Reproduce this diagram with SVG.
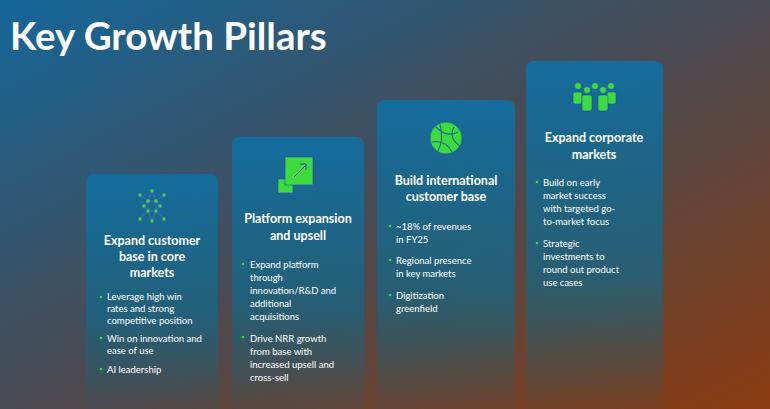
<svg xmlns="http://www.w3.org/2000/svg" width="770" height="409" viewBox="0 0 770 409">
<defs>
<linearGradient id="bg" x1="0" y1="0" x2="1" y2="1">
<stop offset="0" stop-color="#12679a"/><stop offset="0.5" stop-color="#4a4a52"/><stop offset="1" stop-color="#8c3c10"/>
</linearGradient>
<linearGradient id="card" x1="0" y1="0" x2="0" y2="1">
<stop offset="0" stop-color="#126ea0" stop-opacity="0.95"/><stop offset="0.6" stop-color="#1a6480" stop-opacity="0.8"/><stop offset="1" stop-color="#1a6070" stop-opacity="0"/>
</linearGradient>
<style>
.t{font-family:Lato,"Open Sans",sans-serif;fill:#fff}
.h{font-size:12.5px;font-weight:bold;text-anchor:middle}
.b{font-size:9.5px}
.d{fill:#3ddc3d}
.g{fill:#3ddc3d;stroke:#2a40c0;stroke-width:0.6}
.ln{stroke:#5a6ad0;stroke-width:0.7}
</style>
</defs>
<rect width="770" height="409" fill="url(#bg)"/>
<text class="t" x="10" y="50" font-size="38.5" font-weight="bold">Key Growth Pillars</text>
<g id="card1">
<rect x="86" y="174" width="132" height="245" rx="8" fill="url(#card)"/>
<g class="ln">
<line x1="152" y1="191" x2="148" y2="201"/><line x1="152" y1="191" x2="156" y2="201"/>
<line x1="148" y1="201" x2="156" y2="201"/><line x1="148" y1="201" x2="148" y2="211"/><line x1="156" y1="201" x2="156" y2="211"/><line x1="148" y1="211" x2="156" y2="211"/>
<line x1="148" y1="211" x2="152" y2="221"/><line x1="156" y1="211" x2="152" y2="221"/>
<line x1="144" y1="206" x2="148" y2="201"/><line x1="144" y1="206" x2="148" y2="211"/><line x1="160" y1="206" x2="156" y2="201"/><line x1="160" y1="206" x2="156" y2="211"/>
<line x1="140" y1="195" x2="148" y2="201"/><line x1="164" y1="195" x2="156" y2="201"/><line x1="140" y1="219" x2="148" y2="211"/><line x1="164" y1="219" x2="156" y2="211"/>
</g>
<g class="g">
<circle cx="152" cy="191" r="2.2"/><circle cx="140" cy="195" r="2.2"/><circle cx="164" cy="195" r="2.2"/>
<circle cx="148" cy="201" r="2.2"/><circle cx="156" cy="201" r="2.2"/><circle cx="144" cy="206" r="2.2"/><circle cx="160" cy="206" r="2.2"/>
<circle cx="148" cy="211" r="2.2"/><circle cx="156" cy="211" r="2.2"/><circle cx="140" cy="219" r="2.2"/><circle cx="164" cy="219" r="2.2"/><circle cx="152" cy="221" r="2.2"/>
</g>
<text class="t h" x="152" y="245">Expand customer</text>
<text class="t h" x="152" y="261">base in core</text>
<text class="t h" x="152" y="277">markets</text>
<circle class="d" cx="101" cy="297" r="1.3"/><circle class="d" cx="101" cy="338" r="1.3"/><circle class="d" cx="101" cy="369" r="1.3"/>
<text class="t b" x="107" y="300">Leverage high win</text>
<text class="t b" x="107" y="312">rates and strong</text>
<text class="t b" x="107" y="324">competitive position</text>
<text class="t b" x="107" y="342">Win on innovation and</text>
<text class="t b" x="107" y="354">ease of use</text>
<text class="t b" x="107" y="373">AI leadership</text>
</g>
<g id="card2">
<rect x="232" y="137" width="132" height="282" rx="8" fill="url(#card)"/>
<rect x="278" y="179" width="15" height="14" class="g"/>
<rect x="285" y="157" width="28" height="28" class="g"/>
<line x1="294" y1="177" x2="306" y2="165" stroke="#2a40c0" stroke-width="1"/><polyline points="300,164 306,164 306,170" fill="none" stroke="#2a40c0" stroke-width="1"/>
<text class="t h" x="298" y="223">Platform expansion</text>
<text class="t h" x="298" y="240">and upsell</text>
<circle class="d" cx="243" cy="264" r="1.3"/><circle class="d" cx="243" cy="337" r="1.3"/>
<text class="t b" x="250" y="268">Expand platform</text>
<text class="t b" x="250" y="281">through</text>
<text class="t b" x="250" y="294">innovation/R&amp;D and</text>
<text class="t b" x="250" y="307">additional</text>
<text class="t b" x="250" y="320">acquisitions</text>
<text class="t b" x="250" y="342">Drive NRR growth</text>
<text class="t b" x="250" y="355">from base with</text>
<text class="t b" x="250" y="368">increased upsell and</text>
<text class="t b" x="250" y="381">cross-sell</text>
</g>
<g id="card3">
<rect x="377" y="100" width="138" height="319" rx="8" fill="url(#card)"/>
<circle cx="446" cy="138" r="16" class="g" stroke="none"/>
<g fill="none" stroke="#1f6f8f" stroke-width="1.2">
<path d="M436 127 Q446 138 458 132"/><path d="M432 142 Q446 140 452 152"/><path d="M440 124 Q444 140 438 151"/><path d="M454 127 Q448 138 460 146"/>
</g>
<text class="t h" x="446" y="185">Build international</text>
<text class="t h" x="446" y="201">customer base</text>
<circle class="d" cx="390" cy="226" r="1.3"/><circle class="d" cx="390" cy="260" r="1.3"/><circle class="d" cx="390" cy="295" r="1.3"/>
<text class="t b" x="396" y="230">~18% of revenues</text>
<text class="t b" x="396" y="243">in FY25</text>
<text class="t b" x="396" y="264">Regional presence</text>
<text class="t b" x="396" y="277">in key markets</text>
<text class="t b" x="396" y="299">Digitization</text>
<text class="t b" x="396" y="312">greenfield</text>
</g>
<g id="card4">
<rect x="526" y="61" width="137" height="358" rx="8" fill="url(#card)"/>
<g class="g">
<circle cx="578" cy="86" r="3.5"/><circle cx="595" cy="86" r="3.5"/><circle cx="611" cy="86" r="3.5"/>
<circle cx="587" cy="90" r="3.5"/><circle cx="603" cy="90" r="3.5"/>
<rect x="573" y="92" width="9" height="12" rx="2"/><rect x="607" y="92" width="9" height="12" rx="2"/>
<rect x="582" y="95" width="10" height="16" rx="2"/><rect x="598" y="95" width="10" height="16" rx="2"/>
</g>
<text class="t h" x="594" y="142">Expand corporate</text>
<text class="t h" x="594" y="159">markets</text>
<circle class="d" cx="537" cy="182" r="1.3"/><circle class="d" cx="537" cy="243" r="1.3"/>
<text class="t b" x="543" y="186">Build on early</text>
<text class="t b" x="543" y="199">market success</text>
<text class="t b" x="543" y="212">with targeted go-</text>
<text class="t b" x="543" y="225">to-market focus</text>
<text class="t b" x="543" y="247">Strategic</text>
<text class="t b" x="543" y="260">investments to</text>
<text class="t b" x="543" y="273">round out product</text>
<text class="t b" x="543" y="286">use cases</text>
</g>
</svg>
